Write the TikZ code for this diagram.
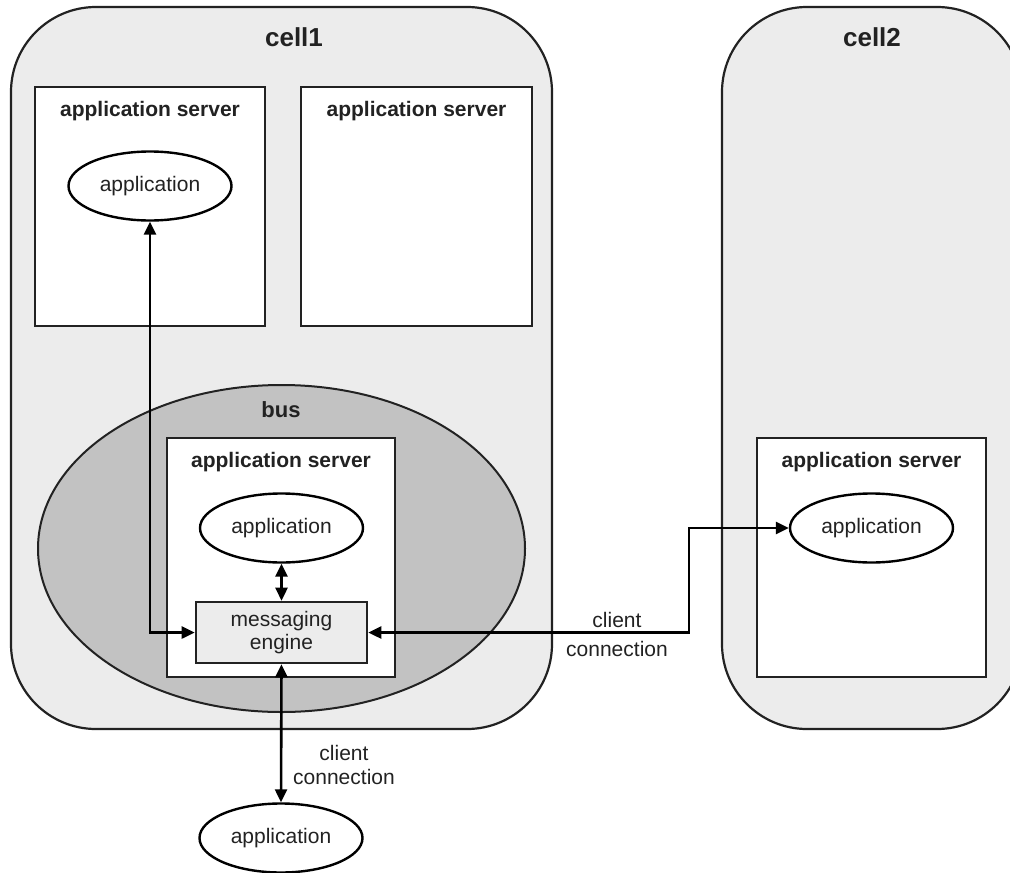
\documentclass[tikz,border=0pt]{standalone}
\usepackage{fontspec}
\setmainfont{Liberation Sans}
\usetikzlibrary{shapes.geometric,arrows.meta}
\definecolor{cellgray}{RGB}{236,236,236}
\definecolor{busgray}{RGB}{194,194,194}
\definecolor{ink}{RGB}{34,34,34}
\begin{document}
\begin{tikzpicture}[x=1pt,y=-1pt,
  cell/.style={draw=ink, line width=2.2pt, fill=cellgray, rounded corners=85pt, inner sep=0pt},
  server/.style={draw=ink, line width=2.6pt, fill=white, inner sep=0pt, minimum height=239pt},
  app/.style={draw=black, line width=2.4pt, fill=white, ellipse, inner sep=0pt, minimum width=163pt, minimum height=69pt, font=\fontsize{21}{24}\selectfont, text=ink},
  title/.style={font=\fontsize{21}{24}\selectfont\bfseries, text=ink},
  celltitle/.style={font=\fontsize{26}{30}\selectfont\bfseries, text=ink},
  conn/.style={line width=2.6pt, {Triangle[length=13pt,width=12pt]}-{Triangle[length=13pt,width=12pt]}},
  lbl/.style={text=ink, align=center}
]
\useasboundingbox (0,0) rectangle (1010,873);
% cells
\begin{scope}
\clip (0,0) rectangle (1010,873);
\node[cell, minimum width=541pt, minimum height=722pt] (cell1) at (281.5,368) {};
\node[cell, minimum width=300pt, minimum height=722pt] (cell2) at (872,368) {};
\end{scope}
\node[celltitle] (cell1t) at (294,37) {cell1};
\node[celltitle] (cell2t) at (872,37) {cell2};
% bus
\node[ellipse, draw=ink, line width=2pt, fill=busgray, minimum width=487pt, minimum height=327pt, inner sep=0pt] (bus) at (281.5,548.5) {};
\node[celltitle, font=\fontsize{22}{26}\selectfont\bfseries] (bust) at (281,410) {bus};
% servers
\node[server, minimum width=230pt] (as1) at (150,206.5) {};
\node[server, minimum width=231pt] (as2) at (416.5,206.5) {};
\node[server, minimum width=228pt] (as3) at (281,557.5) {};
\node[server, minimum width=229pt] (as4) at (871.5,557.5) {};
\node[title] (as1t) at (150,111) {application server};
\node[title] (as2t) at (416.5,111) {application server};
\node[title] (as3t) at (281,462) {application server};
\node[title] (as4t) at (871.5,462) {application server};
% applications
\node[app] (app1) at (150,186) {application};
\node[app] (app3) at (281.5,528) {application};
\node[app] (app4) at (871.5,528) {application};
\node[app] (app5) at (281,838) {application};
% messaging engine
\node[draw=ink, line width=2.6pt, fill=cellgray, minimum width=171pt, minimum height=61pt, inner sep=0pt, align=center, text=ink, font=\fontsize{21}{23}\selectfont] (me) at (281.5,632.5) {messaging\\engine};
% connectors
\coordinate (bend) at (689,632.5);
\draw[conn] (app1.south) |- (me.west);
\draw[conn] (app3.south) -- (me.north);
\draw[conn] (me.east) -- (bend) |- (app4.west);
\draw[conn] (me.south) -- (app5.north);
% labels
\node[lbl, font=\fontsize{21}{29}\selectfont] (cc1) at (617,634.5) {client\\connection};
\node[lbl, font=\fontsize{21}{24}\selectfont] (cc2) at (344,765) {client\\connection};
\end{tikzpicture}
\end{document}
